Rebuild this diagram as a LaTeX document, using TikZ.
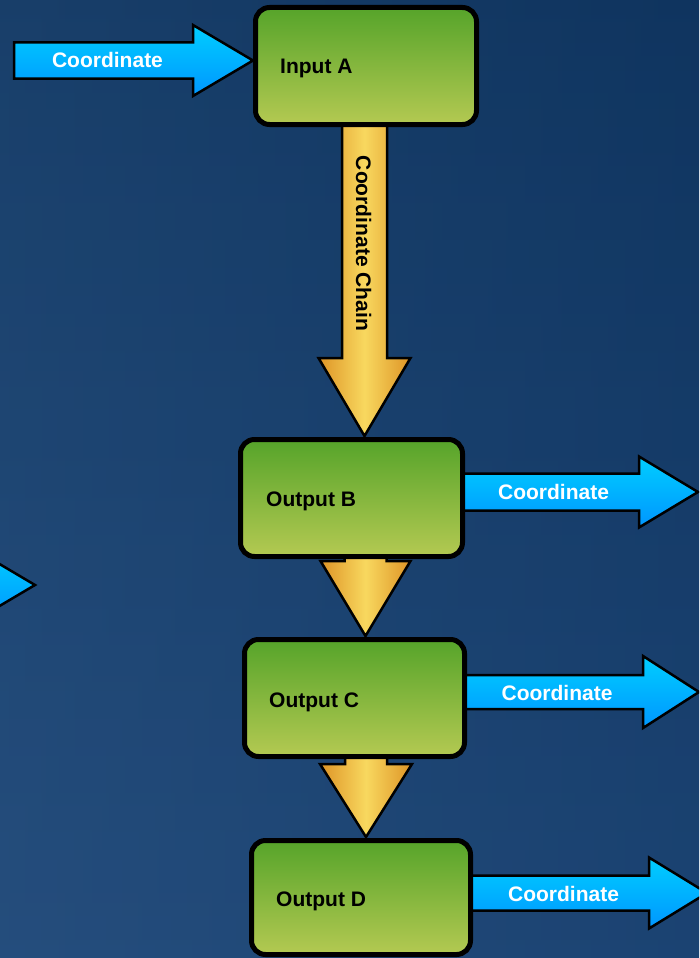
\documentclass[tikz,border=0pt]{standalone}
\usepackage{fontspec}
\setmainfont{Liberation Sans}
\definecolor{bgT}{RGB}{18,64,116}
\definecolor{bgB}{RGB}{40,90,150}
\definecolor{bgL}{RGB}{60,110,165}
\definecolor{bgR}{RGB}{22,68,122}
\definecolor{grT}{RGB}{86,164,42}
\definecolor{grB}{RGB}{180,201,82}
\definecolor{blT}{RGB}{0,206,255}
\definecolor{blB}{RGB}{0,150,255}
\definecolor{orE}{RGB}{222,148,38}
\definecolor{orM}{RGB}{248,216,95}
\newcommand{\myRarrow}[7]{% style, tail x, base x, tip x, cy, shaft half, head half
  \draw[#1] (#2,#5-#6) -- (#3,#5-#6) -- (#3,#5-#7) -- (#4,#5) -- (#3,#5+#7) -- (#3,#5+#6) -- (#2,#5+#6) -- cycle;}
\newcommand{\myDarrow}[7]{% style, cx, top y, base y, tip y, shaft half, head half
  \draw[#1] (#2-#6,#3) -- (#2-#6,#4) -- (#2-#7,#4) -- (#2,#5) -- (#2+#7,#4) -- (#2+#6,#4) -- (#2+#6,#3) -- cycle;}
\begin{document}
\begin{tikzpicture}[x=1pt,y=-1pt,
  lbl/.style={font=\fontsize{21}{25}\selectfont\bfseries, inner sep=0pt},
  whitelbl/.style={lbl, text=white},
  boxst/.style={draw=black, line width=5pt, rounded corners=14pt, top color=grT, bottom color=grB, inner sep=0pt},
  bluearr/.style={draw=black, line width=2.5pt, line join=miter, top color=blT, bottom color=blB},
  yelarr/.style={draw=black, line width=2.5pt, line join=miter, left color=orE, right color=orE, middle color=orM}]
\path[use as bounding box] (0,0) rectangle (699,958);
\clip (0,0) rectangle (699,958);
% background
\fill[top color=bgT, bottom color=bgB] (0,0) rectangle (699,958);
\fill[left color=bgL, right color=bgR, opacity=0.25] (0,0) rectangle (699,958);
% blue arrows
\myRarrow{bluearr}{14}{193}{253}{60.5}{18}{35.5}
\myRarrow{bluearr}{-200}{-25}{35}{585}{18}{35.5}
\myRarrow{bluearr}{455}{639}{698}{492}{18.5}{35.5}
\myRarrow{bluearr}{455}{643}{699}{692}{17}{36}
\myRarrow{bluearr}{460}{649}{707}{893}{17.5}{35.5}
% yellow arrows
\myDarrow{yelarr}{364.5}{115}{358}{436}{22.5}{46}
\myDarrow{yelarr}{365.5}{545}{561}{636}{21}{45}
\myDarrow{yelarr}{366}{745}{764}{837}{21}{46}
% boxes
\node[boxst, minimum width=221pt, minimum height=117pt] (A) at (366,66) {};
\node[boxst, minimum width=222pt, minimum height=117pt] (B) at (351.5,498) {};
\node[boxst, minimum width=220pt, minimum height=117pt] (C) at (354.5,698) {};
\node[boxst, minimum width=219pt, minimum height=114pt] (D) at (361,897.5) {};
% box labels
\node[lbl, anchor=base west] (tA) at (280,74) {Input A};
\node[lbl, anchor=base west] (tB) at (266,506) {Output B};
\node[lbl, anchor=base west] (tC) at (269,707) {Output C};
\node[lbl, anchor=base west] (tD) at (276,906.5) {Output D};
% arrow labels
\node[whitelbl, anchor=base] (cA) at (107.5,67.5) {Coordinate};
\node[whitelbl, anchor=base] (cB) at (553.5,499.5) {Coordinate};
\node[whitelbl, anchor=base] (cC) at (557,700) {Coordinate};
\node[whitelbl, anchor=base] (cD) at (563.5,901) {Coordinate};
\node[lbl, rotate=-90, text height=15pt, text depth=0pt] (chain) at (363.5,243.5) {Coordinate Chain};
\end{tikzpicture}
\end{document}
